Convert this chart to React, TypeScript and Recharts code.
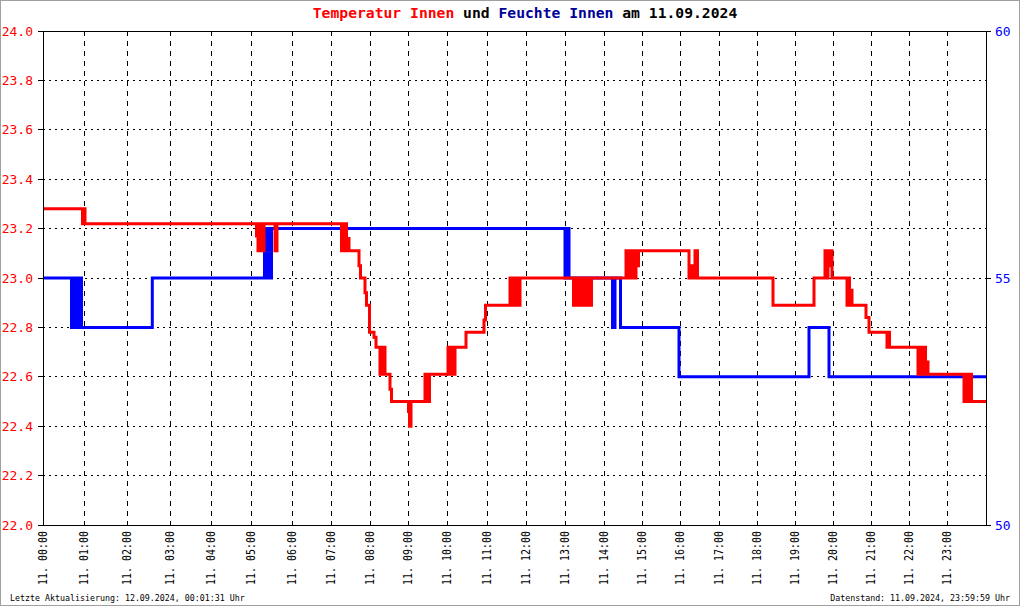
import { LineChart, Line, XAxis, YAxis, CartesianGrid, ReferenceLine } from "recharts";

const FONT = '"DejaVu Sans Mono", "Liberation Mono", monospace';

// x is the logger's sample index (the hours are not evenly spaced in it)
const HOUR_POS = [0, 41, 84, 127, 168, 208, 249, 288, 327, 365, 404, 444, 483, 522, 561, 599, 637, 676, 714, 752, 790, 828, 866, 904];
const HOUR_LABELS = [
    "11. 00:00", "11. 01:00", "11. 02:00", "11. 03:00", "11. 04:00", "11. 05:00",
    "11. 06:00", "11. 07:00", "11. 08:00", "11. 09:00", "11. 10:00", "11. 11:00",
    "11. 12:00", "11. 13:00", "11. 14:00", "11. 15:00", "11. 16:00", "11. 17:00",
    "11. 18:00", "11. 19:00", "11. 20:00", "11. 21:00", "11. 22:00", "11. 23:00",
];
const SAMPLE_END = 943;

const TEMP_TICKS = [22.0, 22.2, 22.4, 22.6, 22.8, 23.0, 23.2, 23.4, 23.6, 23.8, 24.0];
const HUM_TICKS = [50, 55, 60];

// Temperatur Innen, [sample, °C], only where the value changes
const TEMP_POINTS: [number, number][] = [
    [0, 23.28],
    [39.5, 23.22], [41, 23.28], [42, 23.22],
    [213.5, 23.17], [215, 23.11], [216.5, 23.22], [217.5, 23.11], [219, 23.22], [220, 23.11], [221, 23.22],
    [232, 23.11], [234, 23.22],
    [298.5, 23.11], [300, 23.22], [301, 23.11], [302.5, 23.22], [303.5, 23.11], [305, 23.16], [306, 23.11],
    [316, 23.05], [317.5, 23.0],
    [322, 22.94], [323.5, 22.89],
    [326.5, 22.78],
    [331, 22.76], [333, 22.72],
    [337, 22.61], [338.5, 22.72], [339.5, 22.61], [341, 22.72], [342, 22.61],
    [347, 22.55], [348.5, 22.5],
    [365.5, 22.46], [366.5, 22.4], [368, 22.5],
    [382, 22.61], [383, 22.5], [384.5, 22.61], [385.5, 22.5], [386.5, 22.61],
    [405, 22.72], [406.5, 22.61], [407.5, 22.72], [409, 22.61], [410, 22.72], [411, 22.61], [412, 22.72],
    [423, 22.78],
    [441, 22.83], [442.5, 22.89],
    [467, 23.0], [468.5, 22.89], [469.5, 23.0], [471, 22.89], [472, 23.0], [473.5, 22.89], [474.5, 23.0], [476, 22.89], [477, 23.0],
    [530.5, 22.89], [532, 23.0], [535, 22.89], [536, 23.0], [537, 22.89], [538.5, 23.0], [539.5, 22.89], [541, 23.0],
    [542, 22.89], [543.5, 23.0], [544.5, 22.89], [546, 23.0], [547, 22.89], [548.5, 23.0],
    [583, 23.11], [585.5, 23.0], [588.5, 23.11], [589.5, 23.0], [590.5, 23.11], [592, 23.0], [593, 23.11], [594.5, 23.05], [595.5, 23.11],
    [646, 23.0], [648, 23.05], [649, 23.0], [652, 23.11], [654.5, 23.0],
    [730, 22.89],
    [771, 23.0],
    [782, 23.11], [784, 23.0], [785, 23.11], [786.5, 23.05], [787.5, 23.11], [789, 23.0],
    [804, 22.89], [805.5, 23.0], [806.5, 22.89], [808, 22.95], [809, 22.89],
    [823, 22.84], [826, 22.78],
    [844, 22.72], [845.5, 22.78], [846.5, 22.72],
    [875, 22.61], [876.5, 22.72], [877.5, 22.61], [879, 22.72], [880, 22.61], [881.5, 22.72], [882.5, 22.61], [884, 22.66], [885, 22.61],
    [921, 22.5], [922.5, 22.61], [923.5, 22.5], [925, 22.61], [926, 22.5], [927.5, 22.61], [928.5, 22.5],
    [943, 22.5],
];

// Feuchte Innen, [sample, %]
const HUM_POINTS: [number, number][] = [
    [0, 55],
    [28.5, 54], [30, 55], [31, 54], [32.5, 55], [33.5, 54], [35, 55], [36, 54], [37.5, 55], [38.5, 54],
    [109.3, 55],
    [221.5, 56], [223.5, 55], [224.5, 56], [227, 55], [228.5, 56],
    [522, 55], [523, 56], [524, 55], [525, 56], [526, 55],
    [569.5, 54], [572, 55], [577.5, 54],
    [636, 53],
    [766, 54],
    [786, 53],
    [943, 53],
];

const tempData = TEMP_POINTS.map(([x, t]) => ({ x, t }));
const humData = HUM_POINTS.map(([x, h]) => ({ x, h }));

function HourTick({ x, y, payload }: { x?: number; y?: number; payload?: { value: number } }) {
    const label = HOUR_LABELS[HOUR_POS.indexOf(payload?.value ?? -1)];
    return (
        <text
            transform={`translate(${x},${y}) rotate(-90)`}
            textAnchor="end"
            dy="0.36em"
            fontSize={12}
            fontFamily={FONT}
            fill="#000"
            textLength={54}
            lengthAdjust="spacingAndGlyphs"
        >
            {label}
        </text>
    );
}

export default function App() {
    return (
        <div style={{ position: "relative", width: 1020, height: 606, background: "#fff" }}>
            <style>{`body{margin:0}`}</style>
            <LineChart width={1020} height={606} margin={{ top: 31, right: 0, bottom: 0, left: 0 }}>
                <CartesianGrid yAxisId="t" vertical={false} stroke="#000" strokeDasharray="2 4" shapeRendering="crispEdges" />
                <CartesianGrid yAxisId="t" horizontal={false} stroke="#000" strokeDasharray="5 5" shapeRendering="crispEdges" />
                <XAxis
                    dataKey="x"
                    type="number"
                    domain={[0, SAMPLE_END]}
                    ticks={HOUR_POS}
                    allowDataOverflow
                    height={81}
                    axisLine={{ stroke: "#000", shapeRendering: "crispEdges" }}
                    tickLine={false}
                    tickSize={0}
                    tickMargin={6}
                    interval={0}
                    tick={<HourTick />}
                />
                <YAxis
                    yAxisId="t"
                    width={43}
                    domain={[22, 24]}
                    ticks={TEMP_TICKS}
                    allowDataOverflow
                    interval={0}
                    tickFormatter={(v: number) => v.toFixed(1)}
                    axisLine={{ stroke: "#000", shapeRendering: "crispEdges" }}
                    tickLine={{ stroke: "#000", shapeRendering: "crispEdges" }}
                    tickSize={5}
                    tickMargin={5}
                    tick={{ fill: "#ff0000", fontSize: 13, fontFamily: FONT }}
                />
                <YAxis
                    yAxisId="h"
                    orientation="right"
                    width={34}
                    domain={[50, 60]}
                    ticks={HUM_TICKS}
                    allowDataOverflow
                    interval={0}
                    axisLine={{ stroke: "#000", shapeRendering: "crispEdges" }}
                    tickLine={{ stroke: "#000", shapeRendering: "crispEdges" }}
                    tickSize={5}
                    tickMargin={4}
                    tick={{ fill: "#0000ff", fontSize: 13, fontFamily: FONT, textAnchor: "start" }}
                />
                <ReferenceLine yAxisId="t" y={24} stroke="#000" shapeRendering="crispEdges" />
                <Line
                    yAxisId="h"
                    data={humData}
                    dataKey="h"
                    type="stepAfter"
                    stroke="#0000ff"
                    strokeWidth={3}
                    dot={false}
                    activeDot={false}
                    isAnimationActive={false}
                />
                <Line
                    yAxisId="t"
                    data={tempData}
                    dataKey="t"
                    type="stepAfter"
                    stroke="#ff0000"
                    strokeWidth={3}
                    dot={false}
                    activeDot={false}
                    isAnimationActive={false}
                />
            </LineChart>
            <svg
                width={1020}
                height={606}
                style={{ position: "absolute", left: 0, top: 0, pointerEvents: "none" }}
            >
                <rect x={0.5} y={0.5} width={1019} height={605} fill="none" stroke="#a0a0a0" />
                <text x={525} y={18} textAnchor="middle" fontSize={14.7} fontWeight="bold" fontFamily={FONT}>
                    <tspan fill="#ff0000">Temperatur Innen</tspan>
                    <tspan fill="#000"> und </tspan>
                    <tspan fill="#000099">Feuchte Innen</tspan>
                    <tspan fill="#000"> am 11.09.2024</tspan>
                </text>
                <text x={10} y={601} fontSize={8.3} fontFamily={FONT} fill="#000">
                    Letzte Aktualisierung: 12.09.2024, 00:01:31 Uhr
                </text>
                <text x={1010} y={601} textAnchor="end" fontSize={8.3} fontFamily={FONT} fill="#000">
                    Datenstand: 11.09.2024, 23:59:59 Uhr
                </text>
            </svg>
        </div>
    );
}
